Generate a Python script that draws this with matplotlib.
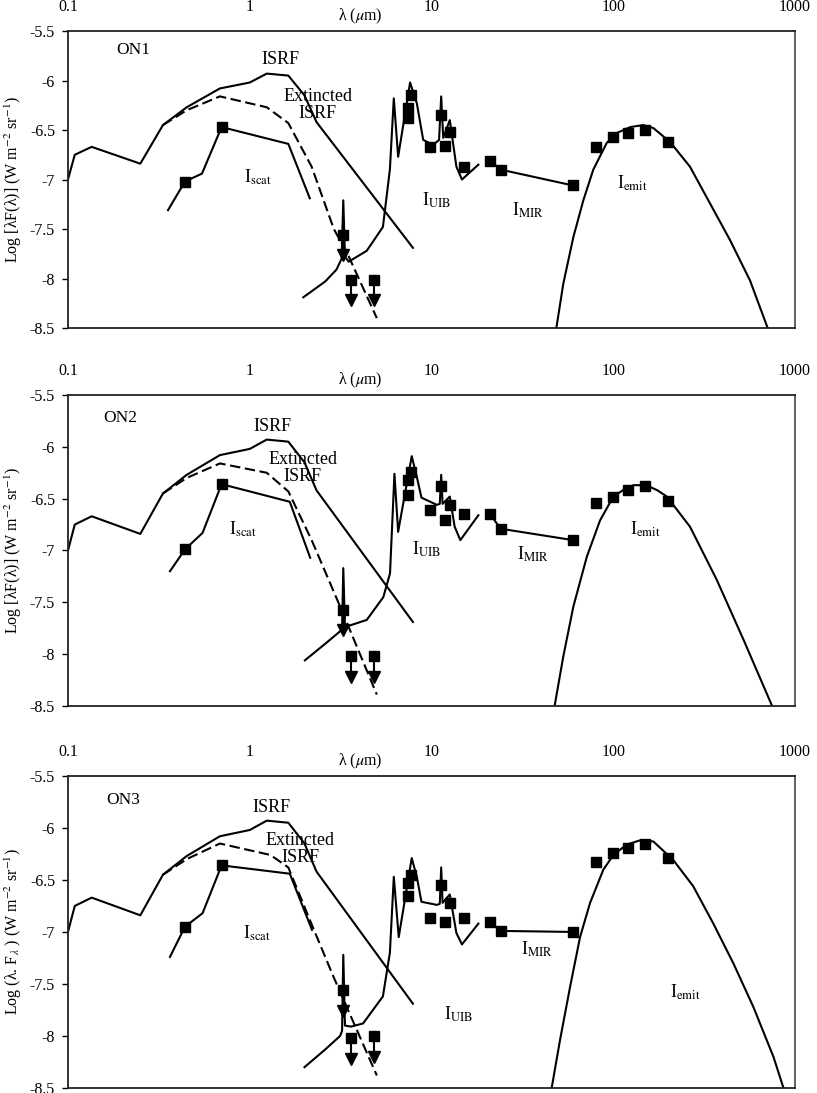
import numpy as np
import matplotlib
matplotlib.use("Agg")
import matplotlib.pyplot as plt

plt.rcParams["font.family"] = ["Liberation Serif", "DejaVu Serif"]
plt.rcParams["mathtext.fontset"] = "stix"

# =============================================================================
# DATA (wavelength in micron, Log of intensity)
# =============================================================================

# ISRF - same in the three panels
isrf_wl  = [0.1, 0.109, 0.135, 0.25, 0.333, 0.45, 0.685, 1.0, 1.24, 1.63, 2.0, 2.33, 7.9]
isrf_val = [-7.0, -6.75, -6.67, -6.84, -6.45, -6.27, -6.08, -6.02, -5.93, -5.95, -6.15, -6.42, -7.69]

# Extincted ISRF (dashed)
ext_wl_on1 = [0.333, 0.45, 0.685, 1.24, 1.63, 2.19, 2.9, 3.43, 5.0]
ext_on1    = [-6.45, -6.30, -6.16, -6.27, -6.43, -6.87, -7.50, -7.74, -8.40]
ext_wl_on2 = [0.333, 0.45, 0.685, 1.24, 1.63, 2.19, 3.14, 5.0]
ext_on2    = [-6.45, -6.30, -6.16, -6.25, -6.43, -6.90, -7.54, -8.39]
ext_wl_on3 = [0.333, 0.45, 0.685, 1.30, 1.63, 2.23, 2.87, 5.0]
ext_on3    = [-6.45, -6.30, -6.15, -6.26, -6.38, -6.96, -7.42, -8.38]

# Scattered light model
scat_wl_on1 = [0.355, 0.44, 0.546, 0.70, 1.63, 2.14]
scat_on1    = [-7.31, -7.02, -6.94, -6.47, -6.64, -7.19]
scat_wl_on2 = [0.364, 0.44, 0.55, 0.70, 1.66, 2.15]
scat_on2    = [-7.20, -6.99, -6.83, -6.36, -6.53, -7.07]
scat_wl_on3 = [0.364, 0.44, 0.55, 0.70, 1.66, 2.20]
scat_on3    = [-7.24, -6.95, -6.82, -6.36, -6.44, -6.98]

# optical measurements
opt_wl  = [0.44, 0.70]
opt_on1 = [-7.02, -6.47]
opt_on2 = [-6.99, -6.36]
opt_on3 = [-6.95, -6.36]

# upper limits in the near-IR
ul_wl  = [3.27, 3.6, 4.8]
ul_on1 = [-7.56, -8.02, -8.02]
ul_on2 = [-7.57, -8.02, -8.02]
ul_on3 = [-7.56, -8.02, -8.00]

# UIB model spectrum
uib_wl_on1 = [1.97, 2.6, 3.0, 3.2, 3.27, 3.34, 3.5, 4.4, 5.4, 5.9, 6.2, 6.55, 7.62, 8.3, 9.0,
              10.2, 11.0, 11.3, 11.6, 12.6, 13.7, 14.7, 18.1]
uib_on1    = [-8.19, -8.03, -7.91, -7.80, -7.21, -7.78, -7.83, -7.72, -7.48, -6.90, -6.18, -6.77,
              -6.02, -6.23, -6.60, -6.65, -6.60, -6.16, -6.58, -6.40, -6.87, -7.00, -6.85]
uib_wl_on2 = [2.01, 2.6, 3.14, 3.22, 3.27, 3.34, 3.6, 4.4, 5.43, 5.91, 6.25, 6.55, 7.78, 8.3, 8.8,
              10.7, 11.1, 11.3, 11.5, 12.6, 13.4, 14.4, 18.1]
uib_on2    = [-8.06, -7.90, -7.78, -7.75, -7.17, -7.74, -7.72, -7.67, -7.45, -7.22, -6.26, -6.82,
              -6.09, -6.29, -6.49, -6.56, -6.55, -6.27, -6.55, -6.48, -6.77, -6.90, -6.66]
uib_wl_on3 = [2.0, 2.6, 3.14, 3.22, 3.27, 3.34, 3.6, 4.2, 5.4, 5.9, 6.2, 6.6, 7.78, 8.3, 8.8,
              10.7, 11.1, 11.3, 11.5, 12.6, 13.7, 14.7, 18.1]
uib_on3    = [-8.30, -8.13, -8.00, -7.95, -7.22, -7.90, -7.91, -7.88, -7.62, -7.20, -6.47, -7.05,
              -6.29, -6.47, -6.71, -6.74, -6.73, -6.38, -6.72, -6.64, -7.01, -7.12, -6.92]

# mid-IR band measurements
band_wl  = [7.4, 7.4, 7.7, 9.8, 11.3, 11.8, 12.6, 15.0]
band_on1 = [-6.28, -6.38, -6.15, -6.67, -6.35, -6.66, -6.52, -6.87]
band_on2 = [-6.32, -6.46, -6.24, -6.61, -6.38, -6.71, -6.56, -6.65]
band_on3 = [-6.53, -6.65, -6.45, -6.87, -6.55, -6.90, -6.72, -6.87]

# I_MIR
mir_wl  = [21, 24, 60]
mir_on1 = [-6.81, -6.90, -7.06]
mir_on2 = [-6.65, -6.79, -6.90]
mir_on3 = [-6.90, -6.99, -7.00]

# far-IR measurements
fir_wl  = [80, 100, 120, 150, 200]
fir_on1 = [-6.67, -6.57, -6.53, -6.50, -6.62]
fir_on2 = [-6.54, -6.48, -6.42, -6.38, -6.52]
fir_on3 = [-6.33, -6.24, -6.19, -6.15, -6.29]

# big grain emission model
emit_wl_on1 = [48.4, 53.1, 60.3, 68.4, 77.6, 92, 104.5, 124, 146, 166, 205, 264, 340, 438, 565, 713]
emit_on1    = [-8.52, -8.05, -7.58, -7.21, -6.90, -6.63, -6.53, -6.47, -6.45, -6.48, -6.62,
               -6.87, -7.24, -7.61, -8.02, -8.52]
emit_wl_on2 = [47.2, 53.1, 60.3, 71.5, 84.5, 100, 115, 129, 152, 175, 197, 264, 370, 520, 760]
emit_on2    = [-8.53, -8.02, -7.54, -7.06, -6.71, -6.48, -6.41, -6.37, -6.37, -6.42, -6.48,
               -6.77, -7.28, -7.86, -8.53]
emit_wl_on3 = [45.8, 50.9, 57.8, 65.6, 74.5, 88.2, 100, 118.5, 140, 166, 214, 275, 355, 457,
               589, 760, 863]
emit_on3    = [-8.50, -8.04, -7.53, -7.05, -6.72, -6.40, -6.26, -6.16, -6.12, -6.13, -6.31,
               -6.56, -6.92, -7.30, -7.72, -8.20, -8.50]

x_ticks  = [0.1, 1, 10, 100, 1000]
x_labels = ["0.1", "1", "10", "100", "1000"]
y_ticks  = [-8.5, -8, -7.5, -7, -6.5, -6, -5.5]
y_labels = ["-8.5", "-8", "-7.5", "-7", "-6.5", "-6", "-5.5"]

ylab_12 = r"Log [λF(λ)] (W m$^{-2}$ sr$^{-1}$)"
ylab_3  = r"Log (λ. F$_{λ}$ ) (W m$^{-2}$ sr$^{-1}$)"

panels = [
    dict(name="ON1", ext=(ext_wl_on1, ext_on1), scat=(scat_wl_on1, scat_on1), opt=opt_on1,
         ul=ul_on1, uib=(uib_wl_on1, uib_on1), band=band_on1, mir=mir_on1, fir=fir_on1,
         emit=(emit_wl_on1, emit_on1), ylab=ylab_12,
         txt={"name": (0.228, -5.69), "isrf": (1.47, -5.79), "ext": (2.37, -6.245),
              "scat": (1.11, -6.98), "uib": (10.7, -7.21), "mir": (34, -7.31), "emit": (128, -7.04)}),
    dict(name="ON2", ext=(ext_wl_on2, ext_on2), scat=(scat_wl_on2, scat_on2), opt=opt_on2,
         ul=ul_on2, uib=(uib_wl_on2, uib_on2), band=band_on2, mir=mir_on2, fir=fir_on2,
         emit=(emit_wl_on2, emit_on2), ylab=ylab_12,
         txt={"name": (0.193, -5.72), "isrf": (1.34, -5.80), "ext": (1.96, -6.20),
              "scat": (0.918, -6.80), "uib": (9.44, -6.99), "mir": (36, -7.04), "emit": (150, -6.80)}),
    dict(name="ON3", ext=(ext_wl_on3, ext_on3), scat=(scat_wl_on3, scat_on3), opt=opt_on3,
         ul=ul_on3, uib=(uib_wl_on3, uib_on3), band=band_on3, mir=mir_on3, fir=fir_on3,
         emit=(emit_wl_on3, emit_on3), ylab=ylab_3,
         txt={"name": (0.201, -5.73), "isrf": (1.32, -5.80), "ext": (1.89, -6.20),
              "scat": (1.10, -7.01), "uib": (14.0, -7.79), "mir": (38, -7.17), "emit": (248, -7.58)}),
]

# axes boxes in figure fraction: (left, bottom, width, height)
boxes = [
    (0.0832, 0.6999, 0.890, 0.2717),
    (0.0832, 0.3541, 0.890, 0.2845),
    (0.0832, 0.0046, 0.890, 0.2855),
]

LW = 1.5
MS = 7.5
FS_TXT = 13
FS_TICK = 11.5

fig = plt.figure(figsize=(8.17, 10.93), dpi=100, facecolor="white")

for box, p in zip(boxes, panels):
    ax = fig.add_axes(box)
    ax.set_xscale("log")
    ax.set_xlim(0.1, 1000)
    ax.set_ylim(-8.5, -5.5)

    # curves
    ax.plot(isrf_wl, isrf_val, color="black", lw=LW)
    ax.plot(*p["ext"], color="black", lw=LW, dashes=(5, 2.2))
    ax.plot(*p["scat"], color="black", lw=LW)
    ax.plot(opt_wl, p["opt"], ls="none", marker="s", ms=MS, color="black")
    ax.plot(*p["uib"], color="black", lw=LW)
    ax.plot(band_wl, p["band"], ls="none", marker="s", ms=MS, color="black")
    ax.plot(mir_wl, p["mir"], color="black", lw=LW, marker="s", ms=MS)
    ax.plot(fir_wl, p["fir"], ls="none", marker="s", ms=MS, color="black")
    ax.plot(*p["emit"], color="black", lw=LW)

    # upper limits: square + stem + down triangle
    ul = np.array(p["ul"])
    ax.plot(ul_wl, ul, ls="none", marker="s", ms=MS, color="black")
    ax.vlines(ul_wl, ul - 0.2, ul, color="black", lw=LW)
    ax.plot(ul_wl, ul - 0.2, ls="none", marker="v", ms=MS + 1, color="black")

    # annotations
    t = p["txt"]
    ax.text(*t["name"], p["name"], fontsize=12.5, ha="center", va="center")
    ax.text(*t["isrf"], "ISRF", fontsize=FS_TXT, ha="center", va="center")
    ax.text(*t["ext"], "Extincted\nISRF", fontsize=FS_TXT, ha="center", va="center",
            linespacing=1.0)
    ax.text(*t["scat"], r"I$_{\rm scat}$", fontsize=FS_TXT, ha="center", va="center")
    ax.text(*t["uib"], r"I$_{\rm UIB}$", fontsize=FS_TXT, ha="center", va="center")
    ax.text(*t["mir"], r"I$_{\rm MIR}$", fontsize=FS_TXT, ha="center", va="center")
    ax.text(*t["emit"], r"I$_{\rm emit}$", fontsize=FS_TXT, ha="center", va="center")

    # axes styling
    ax.set_xticks(x_ticks)
    ax.set_xticklabels(x_labels)
    ax.xaxis.set_minor_locator(matplotlib.ticker.NullLocator())
    ax.tick_params(axis="x", which="both", length=0, pad=11.5, labeltop=True,
                   labelbottom=False, top=False, bottom=False, labelsize=FS_TICK)
    ax.set_yticks(y_ticks)
    ax.set_yticklabels(y_labels)
    ax.tick_params(axis="y", length=4.3, width=1.0, pad=5, direction="out", labelsize=FS_TICK)
    for s in ax.spines.values():
        s.set_linewidth(1.3)
        s.set_color("#222222")
    ax.spines["right"].set_color("#555555")

    h_px = box[3] * 1093
    ax.text(0.4017, 1 + 15 / h_px, r"λ ($\mu$m)", transform=ax.transAxes,
            fontsize=FS_TICK, ha="center", va="center")
    ax.text(-0.0757, 0.5, p["ylab"], transform=ax.transAxes, rotation=90,
            fontsize=FS_TICK, ha="center", va="center")

fig.savefig("out.png", dpi=100, facecolor="white")
